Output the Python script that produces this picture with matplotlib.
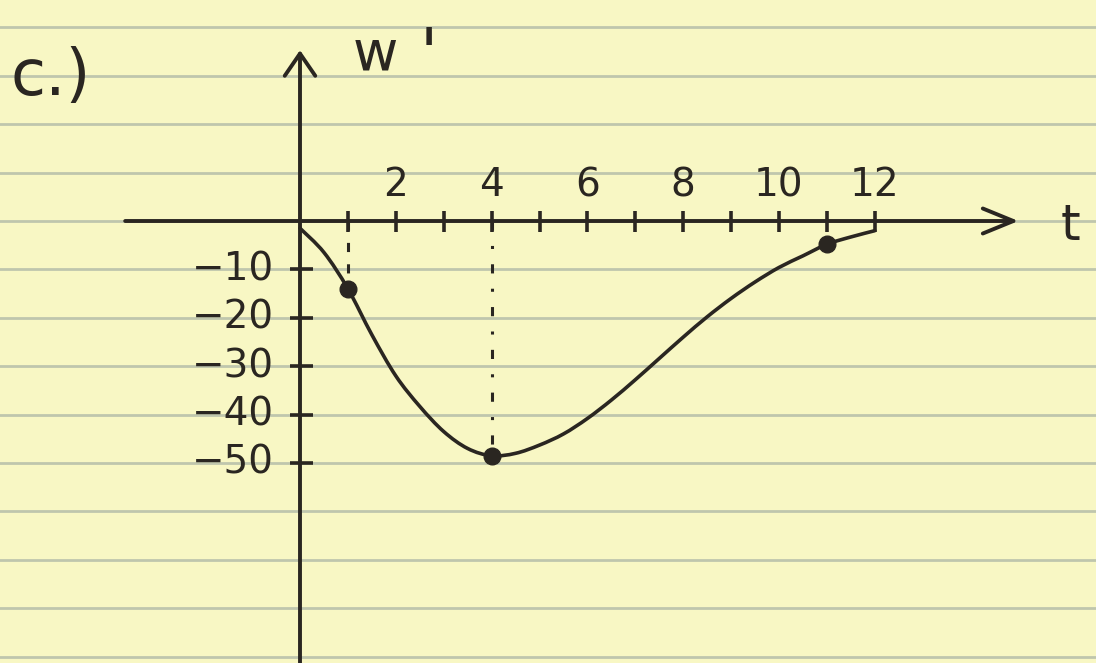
import numpy as np
import matplotlib
matplotlib.use("Agg")
import matplotlib.pyplot as plt
from matplotlib.path import Path
from matplotlib.patches import PathPatch

# Sketch of w'(t): points
t_curve = [0.0, 0.5, 1.0, 1.5, 2.0, 2.5, 3.0, 3.5, 4.0, 4.5, 5.0, 5.5,
           6.0, 6.5, 7.0, 7.5, 8.0, 8.5, 9.0, 9.5, 10.0, 10.5, 11.0,
           11.5, 12.0]
w_curve = [-1.5, -6.5, -14.0, -23.5, -32.0, -38.3, -43.5, -47.0, -48.5,
           -48.0, -46.3, -44.0, -40.8, -37.0, -32.8, -28.4, -24.0, -19.8,
           -16.0, -12.6, -9.6, -7.2, -4.8, -3.3, -2.0]

# Highlighted points on the curve
t_marked = [1.0, 4.0, 11.0]
w_marked = [-14.0, -48.5, -4.8]

# Axis ticks and labels
t_ticks = list(range(1, 13))
t_labeled = [2, 4, 6, 8, 10, 12]
t_labels = ["2", "4", "6", "8", "10", "12"]
w_ticks = [-10, -20, -30, -40, -50]
w_labels = ["\u221210", "\u221220", "\u221230", "\u221240", "\u221250"]

# Paper ruling, one line every 10 units of w
ruling = list(range(40, -100, -10))

PAPER = "#f8f7c4"
RULE = "#bfc6ad"
INK = "#2a2621"


def smooth_path(xs, ys):
    """Cubic Bezier path passing through every given point (Catmull-Rom)."""
    p = np.column_stack([xs, ys]).astype(float)
    ext = np.vstack([p[0], p, p[-1]])
    verts = [p[0]]
    codes = [Path.MOVETO]
    for i in range(1, len(ext) - 2):
        p0, p1, p2, p3 = ext[i - 1], ext[i], ext[i + 1], ext[i + 2]
        verts += [p1 + (p2 - p0) / 6.0, p2 - (p3 - p1) / 6.0, p2]
        codes += [Path.CURVE4] * 3
    return Path(verts, codes)


fig = plt.figure(figsize=(10.96, 6.63), dpi=100, facecolor=PAPER)
ax = fig.add_axes([0, 0, 1, 1])
ax.set_facecolor(PAPER)
ax.axis("off")

px_t = 47.9   # pixels per unit t
px_w = 4.84   # pixels per unit w
ax.set_xlim(-300 / px_t, (1096 - 300) / px_t)
ax.set_ylim(-(663 - 221) / px_w, 221 / px_w)

for r in ruling:
    ax.axhline(r, color=RULE, lw=2.0, zorder=0)

# axes with open arrowheads
ax.annotate("", xy=(15.0, 0), xytext=(-3.65, 0),
            arrowprops=dict(arrowstyle="->,head_length=1.1,head_width=0.45",
                            lw=2.8, color=INK, mutation_scale=20,
                            shrinkA=0, shrinkB=0), zorder=3)
ax.annotate("", xy=(0, 35.3), xytext=(0, -95),
            arrowprops=dict(arrowstyle="->,head_length=0.8,head_width=0.55",
                            lw=2.8, color=INK, mutation_scale=20,
                            shrinkA=0, shrinkB=0), zorder=3)

# tick marks
ax.vlines(t_ticks, -2.3, 2.0, color=INK, lw=2.6, zorder=3)
ax.hlines(w_ticks, -0.21, 0.27, color=INK, lw=2.6, zorder=3)

# tick labels
for tv, lab in zip(t_labeled, t_labels):
    ax.text(tv, 7.4, lab, ha="center", va="center", fontsize=28,
            color=INK, family="DejaVu Sans")
for wv, lab in zip(w_ticks, w_labels):
    ax.text(-0.54, wv, lab, ha="right", va="center", fontsize=28,
            color=INK, family="DejaVu Sans")

# dashed guides from the axis to marked points
ax.plot([t_marked[0], t_marked[0]], [0, w_marked[0]], color=INK, lw=2.2,
        linestyle=(0, (3, 4)), zorder=2)
ax.plot([t_marked[1], t_marked[1]], [0, w_marked[1]], color=INK, lw=2.2,
        linestyle=(0, (3, 5, 1, 5)), zorder=2)

# the curve and its marked points
ax.add_patch(PathPatch(smooth_path(t_curve, w_curve), facecolor="none",
                       edgecolor=INK, lw=2.6, capstyle="round",
                       joinstyle="round", zorder=4))
ax.plot(t_marked, w_marked, "o", color=INK, markersize=12, zorder=5)

# axis names and part label
ax.text(1.09, 31.2, "w", ha="left", va="baseline", fontsize=40,
        color=INK, family="DejaVu Sans")
ax.text(2.5, 30.0, "'", ha="left", va="baseline", fontsize=48,
        color=INK, family="DejaVu Sans")
ax.text(15.87, -3.9, "t", ha="left", va="baseline", fontsize=36,
        color=INK, family="DejaVu Sans")
ax.text(-6.05, 26.0, "c.)", ha="left", va="baseline", fontsize=46,
        color=INK, family="DejaVu Sans")

fig.savefig("out.png", dpi=100, facecolor=PAPER)
